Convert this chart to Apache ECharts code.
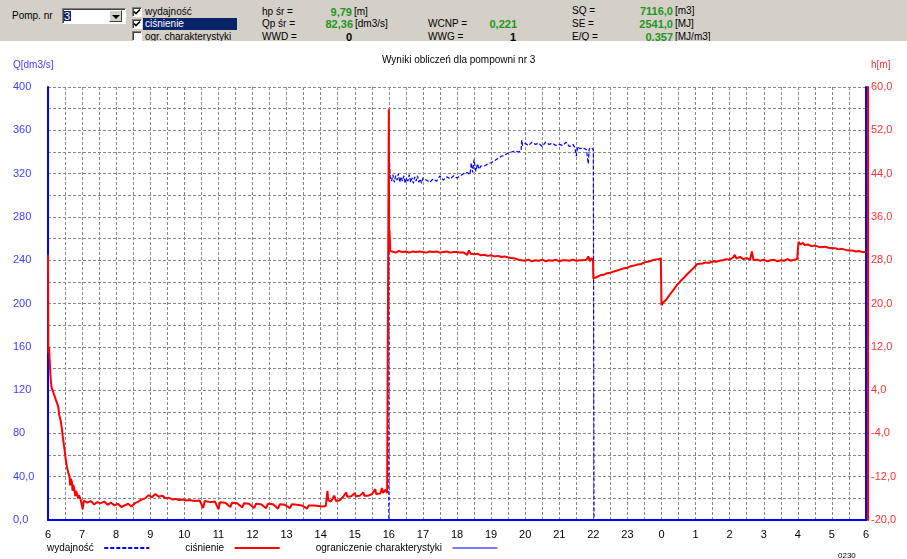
<!DOCTYPE html>
<html><head><meta charset="utf-8">
<script src="https://cdn.jsdelivr.net/npm/echarts/dist/echarts.min.js"></script>
<style>
html,body{margin:0;padding:0;background:#fff;}
#chart{position:absolute;left:0;top:0;width:907px;height:559px;}
#bar{position:absolute;left:0;top:0;width:907px;height:41px;background:#d4d0c8;overflow:hidden;font:10px "Liberation Sans",Arial,sans-serif;color:#000;}
#bar .t{position:absolute;line-height:12px;white-space:nowrap;}
#bar .g{color:#1e961e;font-weight:bold;font-size:11px;text-align:right;width:60px;}
#bar .k{font-weight:bold;font-size:11px;text-align:right;width:60px;}
.cb{position:absolute;left:132px;width:8px;height:8px;background:#fff;border:1px solid;border-color:#808080 #fff #fff #808080;box-shadow:inset 1px 1px 0 #404040;}
.cb svg{position:absolute;left:0;top:0;}
</style>
</head><body>
<div id="chart"></div>
<div id="bar">
  <div class="t" style="left:12px;top:10px">Pomp. nr</div>
  <div style="position:absolute;left:62px;top:8px;width:62px;height:14px;background:#fff;border:1px solid;border-color:#808080 #fff #fff #808080;box-shadow:inset 1px 1px 0 #404040"></div>
  <div class="t" style="left:64px;top:11px;width:7px;height:10px;line-height:10px;font-size:11px;background:#0a246a;color:#fff;">3</div>
  <div style="position:absolute;left:109px;top:10px;width:13px;height:12px;background:#d4d0c8;border:1px solid;border-color:#fff #404040 #404040 #fff;box-sizing:border-box;"></div>
  <div style="position:absolute;left:112px;top:15px;width:0;height:0;border-left:4px solid transparent;border-right:4px solid transparent;border-top:4px solid #000;"></div>

  <div class="cb" style="top:7px"><svg width="8" height="8"><path d="M1 3.5 L3 5.5 L7 1.5" stroke="#000" stroke-width="1.6" fill="none"/></svg></div>
  <div class="cb" style="top:19px"><svg width="8" height="8"><path d="M1 3.5 L3 5.5 L7 1.5" stroke="#000" stroke-width="1.6" fill="none"/></svg></div>
  <div class="cb" style="top:31px"></div>
  <div class="t" style="left:145px;top:6px">wydajność</div>
  <div class="t" style="left:143px;top:18px;width:94px;background:#0a246a;color:#fff;padding-left:2px;box-sizing:border-box;">ciśnienie</div>
  <div class="t" style="left:145px;top:31px">ogr. charakterystyki</div>

  <div class="t" style="left:262px;top:6px">hp śr =</div>
  <div class="t" style="left:262px;top:18px">Qp śr =</div>
  <div class="t" style="left:262px;top:31px">WWD =</div>
  <div class="t g" style="left:292px;top:6px">9,79</div>
  <div class="t g" style="left:293px;top:18px">82,36</div>
  <div class="t k" style="left:292px;top:31px">0</div>
  <div class="t" style="left:354px;top:6px">[m]</div>
  <div class="t" style="left:355px;top:18px">[dm3/s]</div>

  <div class="t" style="left:428px;top:18px">WCNP =</div>
  <div class="t" style="left:428px;top:31px">WWG =</div>
  <div class="t g" style="left:457px;top:18px">0,221</div>
  <div class="t k" style="left:456px;top:31px">1</div>

  <div class="t" style="left:572px;top:5px">SQ =</div>
  <div class="t" style="left:572px;top:18px">SE =</div>
  <div class="t" style="left:572px;top:31px">E/Q =</div>
  <div class="t g" style="left:613px;top:5px">7116,0</div>
  <div class="t g" style="left:613px;top:18px">2541,0</div>
  <div class="t g" style="left:613px;top:31px">0,357</div>
  <div class="t" style="left:675px;top:5px">[m3]</div>
  <div class="t" style="left:675px;top:18px">[MJ]</div>
  <div class="t" style="left:675px;top:31px">[MJ/m3]</div>
</div>
<script>
// ---- tick labels ----
const hourLabels = ['6','7','8','9','10','11','12','13','14','15','16','17','18','19','20','21','22','23','0','1','2','3','4','5','6'];
const qLabels = ['0,0','40,0','80','120','160','200','240','280','320','360','400'];
const hLabels = ['-20,0','-12,0','-4,0','4,0','12,0','20,0','28,0','36,0','44,0','52,0','60,0'];
const legendNames = ['wydajność','ciśnienie','ograniczenie charakterystyki'];

// ---- ciśnienie h[m]  (hours after 6:00) ----
const tRed = [
 0,0.01,0.03,0.05,0.07,0.08,0.10,0.11,0.14,0.17,0.20,0.23,0.27,0.30,0.33,0.37,0.40,0.43,0.47,0.50,0.53,0.57,0.60,0.63,0.65,0.67,0.70,0.72,0.74,0.77,0.80,0.82,0.85,0.88,0.91,0.95,0.98,
 1.00,1.02,1.05,1.15,1.25,1.35,1.45,1.55,1.65,1.75,1.85,1.95,2.05,2.15,2.25,2.35,2.45,2.55,2.65,2.75,2.85,2.95,3.05,3.15,3.25,3.35,3.45,3.55,3.65,3.75,3.85,3.95,4.05,4.15,4.30,4.45,4.55,4.60,4.75,4.90,5.00,5.05,5.20,5.35,5.40,5.55,5.70,5.75,5.90,6.05,6.10,6.25,6.40,6.45,6.60,6.75,6.80,6.95,7.10,7.15,7.30,7.45,7.60,7.65,7.80,7.95,8.05,8.15,
 8.20,8.22,8.30,8.40,8.45,8.55,8.66,8.75,8.78,8.90,9.00,9.03,9.15,9.25,9.28,9.40,9.51,9.60,9.63,9.75,9.80,9.83,9.90,9.95,9.99,10.00,10.01,10.02,10.04,
 10.1,10.2,10.3,10.4,10.5,10.6,10.7,10.8,10.9,11.0,11.1,11.2,11.3,11.4,11.5,11.6,11.7,11.8,11.9,12.0,12.1,12.2,12.3,12.35,12.4,12.5,12.6,12.7,12.8,12.9,13.0,13.1,13.2,13.3,13.4,13.5,13.6,13.7,13.8,13.9,14.0,14.1,14.2,14.3,14.4,14.5,14.6,14.7,14.8,14.9,15.0,15.1,15.2,15.3,15.4,15.5,15.6,15.7,15.8,15.85,15.9,15.95,15.99,16.0,
 16.1,16.2,16.3,16.4,16.5,16.6,16.7,16.8,16.9,17.0,17.1,17.2,17.3,17.4,17.5,17.6,17.7,17.8,17.9,17.98,18.0,
 18.05,18.1,18.15,18.2,18.25,18.3,18.35,18.4,18.45,18.5,18.55,18.6,18.65,18.7,18.75,18.8,18.85,18.9,18.95,19.0,19.05,19.1,19.2,19.3,19.4,19.5,19.6,19.7,19.8,19.9,20.0,20.1,20.15,20.2,20.3,20.4,20.5,20.6,20.65,20.7,20.8,20.9,21.0,21.1,21.2,21.3,21.4,21.5,21.6,21.7,21.8,21.9,21.98,22.02,
 22.08,22.15,22.2,22.3,22.4,22.5,22.6,22.7,22.8,22.9,23.0,23.1,23.2,23.3,23.4,23.5,23.6,23.7,23.8,23.9,24.0
];
const hRed = [
 29.0,10.8,11.9,9.5,7.0,5.9,4.8,4.3,3.9,3.3,2.8,2.2,1.5,0.9,-0.6,-1.6,-2.8,-4.4,-6.3,-7.7,-9.3,-10.6,-11.4,-11.9,-13.6,-12.4,-12.9,-14.6,-13.5,-14.2,-15.6,-14.6,-15.1,-16.0,-15.4,-16.1,-15.8,
 -16.3,-18.0,-16.4,-16.8,-16.5,-17.1,-16.7,-16.9,-16.6,-17.2,-16.8,-17.3,-17.0,-17.6,-17.3,-17.0,-17.5,-16.9,-16.6,-16.2,-16.0,-15.4,-15.8,-15.2,-15.7,-15.5,-16.0,-15.9,-16.2,-16.1,-16.3,-16.2,-16.4,-16.3,-16.5,-16.4,-17.8,-16.5,-16.7,-16.6,-18.0,-16.7,-16.8,-17.6,-16.8,-16.9,-17.7,-16.9,-17.0,-17.8,-17.0,-17.1,-17.8,-17.0,-17.1,-17.9,-17.1,-17.2,-17.8,-17.1,-17.2,-17.3,-17.9,-17.3,-17.3,-17.4,-17.5,-17.4,
 -14.6,-16.3,-16.6,-15.5,-16.5,-16.4,-15.7,-14.9,-15.7,-15.6,-15.0,-15.6,-15.5,-14.9,-15.5,-15.5,-15.2,-14.3,-15.2,-15.1,-14.1,-15.0,-14.4,-15.0,-14.9,55.9,29.5,33.5,29.7,
 29.6,29.4,29.7,29.5,29.6,29.4,29.6,29.5,29.6,29.5,29.4,29.6,29.5,29.6,29.4,29.5,29.6,29.4,29.5,29.5,29.4,29.4,29.0,29.8,29.2,29.1,29.2,28.9,29.0,28.8,28.9,28.7,28.8,28.6,28.7,28.5,28.4,28.3,28.1,28.0,27.9,28.1,27.8,28.0,27.9,28.1,27.8,28.0,27.9,28.1,27.8,28.0,28.0,27.9,28.1,27.9,28.0,28.0,28.1,28.7,27.8,28.4,28.0,24.6,
 24.9,25.2,25.3,25.6,25.7,25.9,26.1,26.3,26.5,26.6,26.9,27.0,27.2,27.3,27.6,27.7,27.9,28.1,28.2,28.3,19.7,
 20.2,19.9,20.8,21.0,21.7,21.6,22.5,22.4,23.4,23.2,24.1,24.0,24.7,24.6,25.4,25.3,26.0,25.9,26.6,26.9,27.3,27.1,27.4,27.6,27.5,27.8,27.7,27.9,28.0,28.2,28.1,28.5,29.0,28.3,28.6,28.2,28.4,28.1,29.6,28.0,28.1,27.9,28.1,27.8,28.0,28.1,27.8,28.0,27.9,28.2,27.9,28.1,28.2,31.4,
 30.9,31.2,30.8,30.9,30.6,30.7,30.5,30.4,30.5,30.3,30.2,30.2,30.0,30.1,29.9,29.8,29.8,29.6,29.7,29.5,29.5
];

// ---- wydajność Q[dm3/s] ----
const tBlue = [
 0,10.0,10.0,10.02,10.04,10.08,10.12,10.16,10.2,10.24,10.28,10.32,10.36,10.4,10.44,10.48,10.52,10.56,10.6,10.64,10.68,10.72,10.76,10.8,10.84,10.88,10.92,10.96,11.0,
 11.1,11.2,11.3,11.4,11.5,11.6,11.7,11.8,11.9,12.0,12.1,12.2,12.3,12.38,12.42,12.46,12.5,12.55,12.6,12.65,12.7,12.8,12.9,13.0,13.1,13.2,13.3,13.4,13.5,13.6,13.7,13.8,13.88,
 13.9,13.92,14.0,14.1,14.2,14.3,14.4,14.5,14.6,14.7,14.8,14.9,15.0,15.1,15.2,15.3,15.4,15.46,15.5,15.54,15.6,15.7,15.8,15.85,15.88,15.95,16.0,16.02,16.02,24
];
const qBlue = [
 0,0,340,330,317,313,319,312,318,314,320,312,317,313,318,311,316,313,319,312,316,311,317,313,318,312,315,311,316,
 314,312,315,313,318,314,317,315,318,316,318,320,321,319,330,321,333,322,329,324,327,327,329,330,332,334,336,337,339,340,341,340,341,
 351,346,348,346,349,347,348,345,349,347,348,346,347,346,349,345,347,344,336,345,343,344,342,329,343,344,342,342,0,0
];

const redData = tRed.map((t, i) => [t, hRed[i]]);
const blueData = tBlue.map((t, i) => [t, qBlue[i]]);

const FONT = '"Liberation Sans", Arial, sans-serif';
const chart = echarts.init(document.getElementById('chart'));
chart.setOption({
  animation: false,
  backgroundColor: '#ffffff',
  textStyle: { fontFamily: FONT },
  title: [
    { text: 'Wyniki obliczeń dla pompowni nr 3', left: 382, top: 55, padding: 0,
      textStyle: { fontSize: 10, fontWeight: 'normal', color: '#000', fontFamily: FONT } },
    { text: 'Q[dm3/s]', left: 13, top: 60, padding: 0,
      textStyle: { fontSize: 10, fontWeight: 'normal', color: '#4040ff', fontFamily: FONT } },
    { text: 'h[m]', left: 871, top: 60, padding: 0,
      textStyle: { fontSize: 10, fontWeight: 'normal', color: '#ff3030', fontFamily: FONT } }
  ],
  legend: {
    left: 47, top: 543, align: 'right', itemWidth: 45, itemHeight: 12, itemGap: 35, padding: 0,
    data: legendNames, selectedMode: false,
    itemStyle: { opacity: 0 },
    formatter: n => n + '  ',
    textStyle: { fontSize: 10, color: '#000', fontFamily: FONT }
  },
  graphic: [
    { type: 'text', left: 838, top: 552, style: { text: '0230', fontSize: 8, fill: '#000', fontFamily: FONT } }
  ],
  grid: { left: 48, right: 41, top: 87, bottom: 39 },
  xAxis: {
    type: 'value', min: 0, max: 24, interval: 0.5,
    axisLine: { lineStyle: { color: '#0000ff', width: 2 } },
    axisTick: { show: false },
    axisLabel: { margin: 9, fontSize: 11, color: '#000', fontFamily: FONT,
      formatter: v => Number.isInteger(v) ? hourLabels[v] : '' },
    splitLine: { show: true, lineStyle: { color: '#8a8a8a', type: [3, 2], width: 1 } }
  },
  yAxis: [
    { type: 'value', min: 0, max: 400, interval: 20, position: 'left',
      axisLine: { show: true, lineStyle: { color: '#0000ff', width: 2 } },
      axisTick: { show: false },
      axisLabel: { align: 'left', margin: 35, fontSize: 11, color: '#4040ff', fontFamily: FONT,
        formatter: v => (v % 40 === 0) ? qLabels[v / 40] : '' },
      splitLine: { show: true, lineStyle: { color: '#8a8a8a', type: [3, 2], width: 1 } }
    },
    { type: 'value', min: -20, max: 60, interval: 4, position: 'right',
      axisLine: { show: true, lineStyle: { color: '#0000ff', width: 2 } },
      axisTick: { show: false },
      axisLabel: { margin: 5, fontSize: 11, color: '#ff3030', fontFamily: FONT,
        formatter: v => ((v + 20) % 8 === 0) ? hLabels[(v + 20) / 8] : '' },
      splitLine: { show: false }
    },
    { type: 'value', min: -20, max: 60, interval: 4, position: 'right', offset: 2,
      axisLine: { show: true, lineStyle: { color: '#ff0000', width: 2 } },
      axisTick: { show: false }, axisLabel: { show: false }, splitLine: { show: false }
    }
  ],
  series: [
    { name: 'wydajność', type: 'line', yAxisIndex: 0, data: blueData, symbol: 'none',
      lineStyle: { color: '#0000ff', width: 1.2, type: [4, 2] }, itemStyle: { color: '#0000ff' }, z: 3 },
    { name: 'ciśnienie', type: 'line', yAxisIndex: 1, data: redData, symbol: 'none',
      lineStyle: { color: '#ff0000', width: 2 }, itemStyle: { color: '#ff0000' }, z: 4 },
    { name: 'ograniczenie charakterystyki', type: 'line', yAxisIndex: 0, data: [], symbol: 'none',
      lineStyle: { color: '#7b7bff', width: 2 }, itemStyle: { color: '#7b7bff' } }
  ]
});
</script>
</body></html>
